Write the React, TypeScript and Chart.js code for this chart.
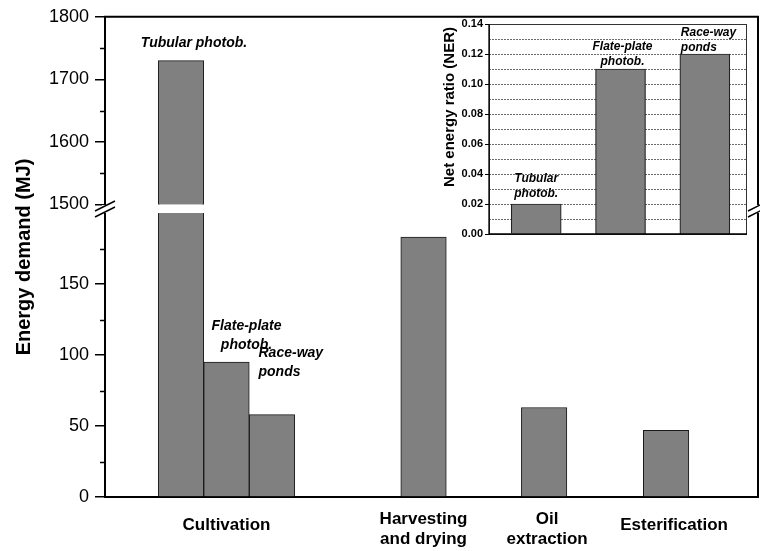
import React, { useEffect, useRef } from 'react';
import { Chart, registerables } from 'chart.js';

Chart.register(...registerables);

const FONT = '"Liberation Sans", Arial, Helvetica, sans-serif';

// ---------- main chart data ----------
const stageLabels: string[][] = [
  ['Cultivation'],
  ['Harvesting', 'and drying'],
  ['Oil', 'extraction'],
  ['Esterification'],
];
const barNames: string[][] = [
  ['Tubular photob.'],
  ['Flate-plate', 'photob.'],
  ['Race-way', 'ponds'],
  [],
  [],
  [],
];
const barStage = [0, 0, 0, 1, 2, 3];
const barPos = [1.67, 2.67, 3.67, 7.0, 9.65, 12.33];
const energyDemand = [1730, 95, 58, 183, 63, 47];
const topTicks = [1500, 1600, 1700, 1800];
const bottomTicks = [0, 50, 100, 150];
const breakLow = 200;

// ---------- inset data ----------
const nerNames: string[][] = [
  ['Tubular', 'photob.'],
  ['Flate-plate', 'photob.'],
  ['Race-way', 'ponds'],
];
const nerValues = [0.02, 0.11, 0.12];
const nerTicks = [0, 0.02, 0.04, 0.06, 0.08, 0.1, 0.12, 0.14];

// label placement styles (offsets from bar top/center)
const stageLabelDx = [0, 0, 3, 8];
const mainLabelStyle = [
  { dx: 13, dy: -17, align: 'center' },
  { dx: 20, dy: -17, align: 'center' },
  { dx: -13.5, dy: -43, align: 'left' },
];
const insetLabelStyle = [
  { dx: 0, dy: -10, align: 'center' },
  { dx: 2, dy: -7, align: 'center' },
  { dx: -24, dy: -6, align: 'left' },
];

const BAR_FILL = '#808080';
const BAR_EDGE = '#1a1a1a';

function minorValues(majors: number[], max: number) {
  const step = majors[1] - majors[0];
  const out: number[] = [];
  for (let v = majors[0] + step / 2; v < max; v += step) out.push(v);
  return out;
}

const mainPlugin = {
  id: 'mainDecor',
  beforeDatasetDraw(chart: any, args: any) {
    const { ctx, chartArea: a } = chart;
    const ys = args.meta.yScale;
    ctx.save();
    ctx.beginPath();
    ctx.rect(a.left, ys.top, a.right - a.left, ys.bottom - ys.top);
    ctx.clip();
  },
  afterDatasetDraw(chart: any) {
    chart.ctx.restore();
  },
  afterDraw(chart: any) {
    const { ctx, chartArea: a, scales } = chart;
    const yTop = scales.yTop;
    const yBot = scales.yBot;
    const xs = scales.x;
    ctx.save();
    ctx.strokeStyle = '#000';
    ctx.lineWidth = 2;
    ctx.beginPath();
    ctx.moveTo(a.left - 1, a.top);
    ctx.lineTo(a.right, a.top);
    ctx.lineTo(a.right, a.bottom + 1);
    ctx.stroke();

    // minor ticks
    ctx.lineWidth = 1.5;
    const minors: [any, number[]][] = [
      [yTop, minorValues(topTicks, yTop.max)],
      [yBot, minorValues(bottomTicks, yBot.max)],
    ];
    for (const [sc, vals] of minors) {
      for (const v of vals) {
        const py = Math.round(sc.getPixelForValue(v)) + 0.5;
        ctx.beginPath();
        ctx.moveTo(a.left - 5, py);
        ctx.lineTo(a.left, py);
        ctx.stroke();
      }
    }

    // axis break gap
    const g1 = yTop.bottom + 0.5;
    const g2 = yBot.getPixelForValue(breakLow);
    ctx.fillStyle = '#fff';
    ctx.fillRect(a.left - 3, g1, a.right - a.left + 8, g2 - g1);
    const gm = (g1 + g2) / 2;
    ctx.lineWidth = 1.5;
    for (const cx of [a.left, a.right]) {
      for (const d of [-3, 3]) {
        ctx.beginPath();
        ctx.moveTo(cx - 10, gm + d + 5);
        ctx.lineTo(cx + 10, gm + d - 5);
        ctx.stroke();
      }
    }

    // y title
    ctx.save();
    ctx.translate(24, 257);
    ctx.rotate(-Math.PI / 2);
    ctx.fillStyle = '#000';
    ctx.font = `bold 20px ${FONT}`;
    ctx.textAlign = 'center';
    ctx.textBaseline = 'middle';
    ctx.fillText('Energy demand (MJ)', 0, 0);
    ctx.restore();

    // x stage labels
    ctx.fillStyle = '#000';
    ctx.font = `bold 17px ${FONT}`;
    ctx.textAlign = 'center';
    ctx.textBaseline = 'middle';
    stageLabels.forEach((lines, s) => {
      const pos = barPos.filter((_, i) => barStage[i] === s);
      const cx = xs.getPixelForValue(pos.reduce((p, c) => p + c, 0) / pos.length) + stageLabelDx[s];
      const first = a.bottom + (lines.length === 1 ? 28 : 22);
      lines.forEach((t, k) => ctx.fillText(t, cx, first + k * 20));
    });

    // bar annotations
    ctx.font = `italic bold 14px ${FONT}`;
    barNames.forEach((lines, i) => {
      if (!lines.length) return;
      const st = mainLabelStyle[i];
      const v = energyDemand[i];
      const top = v > yTop.min ? yTop.getPixelForValue(v) : yBot.getPixelForValue(v);
      const cx = xs.getPixelForValue(barPos[i]) + st.dx;
      ctx.textAlign = st.align as CanvasTextAlign;
      const n = lines.length;
      lines.forEach((t, k) => ctx.fillText(t, cx, top + st.dy - (n - 1 - k) * 19));
    });
    ctx.restore();
  },
};

const insetPlugin = {
  id: 'insetDecor',
  afterDraw(chart: any) {
    const { ctx, chartArea: a } = chart;
    ctx.save();
    ctx.strokeStyle = '#333';
    ctx.lineWidth = 1;
    ctx.strokeRect(a.left + 0.5, a.top + 0.5, a.right - a.left - 1, a.bottom - a.top);
    ctx.strokeStyle = '#000';
    ctx.lineWidth = 1.3;
    ctx.beginPath();
    ctx.moveTo(a.left, a.top);
    ctx.lineTo(a.left, a.bottom);
    ctx.lineTo(a.right, a.bottom);
    ctx.stroke();

    ctx.save();
    ctx.translate(50, 107);
    ctx.rotate(-Math.PI / 2);
    ctx.fillStyle = '#000';
    ctx.font = `bold 15px ${FONT}`;
    ctx.textAlign = 'center';
    ctx.textBaseline = 'middle';
    ctx.fillText('Net energy ratio (NER)', 0, 0);
    ctx.restore();

    ctx.fillStyle = '#000';
    ctx.font = `italic bold 12px ${FONT}`;
    ctx.textBaseline = 'middle';
    const meta = chart.getDatasetMeta(0);
    nerNames.forEach((lines, i) => {
      const bar = meta.data[i];
      const st = insetLabelStyle[i];
      ctx.textAlign = st.align as CanvasTextAlign;
      const n = lines.length;
      lines.forEach((t, k) => ctx.fillText(t, bar.x + st.dx, bar.y + st.dy - (n - 1 - k) * 15.5));
    });
    ctx.restore();
  },
};

function mainConfig(): any {
  const points = barPos.map((x, i) => ({ x, y: energyDemand[i] }));
  const ds = (axis: string) => ({
    data: points,
    yAxisID: axis,
    xAxisID: 'x',
    backgroundColor: BAR_FILL,
    borderColor: BAR_EDGE,
    borderWidth: 1,
    barThickness: 45.5,
    grouped: false,
  });
  const yCommon = (ticks: number[]) => ({
    type: 'linear',
    position: 'left',
    stack: 'v',
    afterBuildTicks: (s: any) => {
      s.ticks = ticks.map((v) => ({ value: v }));
    },
    afterFit: (s: any) => {
      s.width = 105;
    },
    ticks: {
      callback: (v: any) => String(v),
      font: { family: FONT, size: 18 },
      color: '#000',
      padding: 6,
      autoSkip: false,
    },
    grid: {
      display: true,
      drawOnChartArea: false,
      drawTicks: true,
      tickLength: 10,
      color: '#000',
      lineWidth: 1.5,
    },
    border: { display: true, color: '#000', width: 2 },
  });
  return {
    type: 'bar',
    data: { datasets: [ds('yBot'), ds('yTop')] },
    options: {
      responsive: false,
      animation: false,
      events: [],
      layout: { padding: { left: 0, right: 2, top: 16, bottom: 0 } },
      plugins: { legend: { display: false }, tooltip: { enabled: false } },
      scales: {
        x: {
          type: 'linear',
          offset: false,
          min: 0,
          max: 14.35,
          grid: { display: false, drawTicks: false },
          ticks: { display: false },
          border: { display: true, color: '#000', width: 2 },
          afterFit: (s: any) => {
            s.height = 54;
          },
        },
        yBot: { ...yCommon(bottomTicks), min: 0, max: 206, stackWeight: 293 },
        yTop: { ...yCommon(topTicks), min: 1500, max: 1800, stackWeight: 188 },
      },
    },
    plugins: [mainPlugin],
  };
}

function insetConfig(): any {
  const points = nerValues.map((v, i) => ({ x: i + 1, y: v }));
  const step = (nerTicks[1] - nerTicks[0]) / 2;
  const gridVals: number[] = [];
  for (let k = 0; k <= Math.round(nerTicks[nerTicks.length - 1] / step); k++) gridVals.push(+(k * step).toFixed(4));
  const isMajor = (v: number) => nerTicks.some((t) => Math.abs(t - v) < 1e-6);
  return {
    type: 'bar',
    data: {
      datasets: [
        {
          data: points,
          backgroundColor: BAR_FILL,
          borderColor: '#222',
          borderWidth: 1.2,
          barThickness: 50,
        },
      ],
    },
    options: {
      responsive: false,
      animation: false,
      events: [],
      layout: { padding: { left: 0, top: 24, right: 13, bottom: 16 } },
      plugins: { legend: { display: false }, tooltip: { enabled: false } },
      scales: {
        x: { type: 'linear', offset: false, min: 0.44, max: 3.5, display: false },
        y: {
          type: 'linear',
          min: 0,
          max: nerTicks[nerTicks.length - 1],
          afterBuildTicks: (s: any) => {
            s.ticks = gridVals.map((v) => ({ value: v }));
          },
          afterFit: (s: any) => {
            s.width = 89;
          },
          ticks: {
            callback: (v: any) => (isMajor(v) ? Number(v).toFixed(2) : ''),
            font: { family: FONT, size: 11, weight: 'bold' },
            color: '#000',
            padding: 2,
            autoSkip: false,
          },
          grid: {
            color: '#444',
            lineWidth: 0.8,
            tickLength: 4,
            tickWidth: 1,
            tickColor: (c: any) => (c.tick && isMajor(c.tick.value) ? '#000' : 'rgba(0,0,0,0)'),
          },
          border: { display: false, dash: [2, 1] },
        },
      },
    },
    plugins: [insetPlugin],
  };
}

export default function App() {
  const mainRef = useRef<HTMLCanvasElement>(null);
  const insetRef = useRef<HTMLCanvasElement>(null);
  useEffect(() => {
    const main = new Chart(mainRef.current as HTMLCanvasElement, mainConfig());
    const inset = new Chart(insetRef.current as HTMLCanvasElement, insetConfig());
    return () => {
      main.destroy();
      inset.destroy();
    };
  }, []);
  return (
    <div style={{ position: 'absolute', left: 0, top: 0, width: 760, height: 551, background: '#fff' }}>
      <canvas ref={mainRef} width={760} height={551} style={{ position: 'absolute', left: 0, top: 0 }} />
      <canvas ref={insetRef} width={360} height={250} style={{ position: 'absolute', left: 400, top: 0 }} />
    </div>
  );
}
